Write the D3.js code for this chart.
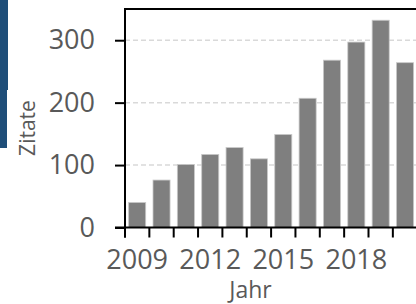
<!DOCTYPE html>
<html>
<head>
<meta charset="utf-8">
<script src="https://cdn.jsdelivr.net/npm/d3@7"></script>
<style>
  body { margin: 0; background: #fff; }
  text { font-family: "Open Sans", sans-serif; fill: #595959; }
</style>
</head>
<body>
<svg id="chart" width="416" height="304"></svg>
<script>
// data
let years = [2009, 2010, 2011, 2012, 2013, 2014, 2015, 2016, 2017, 2018, 2019, 2020];
let zitate = [40, 76, 101, 117, 128, 110, 149, 207, 268, 297, 332, 264];
let yTicks = [0, 100, 200, 300];
let xLabels = [2009, 2012, 2015, 2018];

let svg = d3.select("#chart");
let plotL = 125, plotT = 9, plotB = 227.5, plotR = 417.2;

let x = d3.scaleBand()
    .domain(years)
    .range([plotL, plotR])
    .paddingInner(0.3)
    .paddingOuter(0.15);
let step = x.step();

let y = d3.scaleLinear()
    .domain([0, 350])
    .range([plotB, plotT]);

// blue strip on the left edge
svg.append("path")
    .attr("d", "M0,0H8V90H7V148H0Z")
    .attr("fill", "#1f4e79");

// gridlines
svg.append("g")
    .selectAll("line")
    .data(yTicks.filter(d => d > 0))
    .enter().append("line")
    .attr("x1", plotL).attr("x2", 416)
    .attr("y1", d => y(d)).attr("y2", d => y(d))
    .attr("stroke", "#d9d9d9")
    .attr("stroke-width", 1.5)
    .attr("stroke-dasharray", "5,3");

// bars
svg.append("g")
    .selectAll("rect")
    .data(years)
    .enter().append("rect")
    .attr("x", d => x(d))
    .attr("y", (d, i) => y(zitate[i]))
    .attr("width", x.bandwidth())
    .attr("height", (d, i) => plotB - y(zitate[i]))
    .attr("fill", "#7f7f7f")
    .attr("stroke", "#c8c8c8")
    .attr("stroke-width", 0.8);

// frame: top border
svg.append("line")
    .attr("x1", plotL).attr("x2", 416)
    .attr("y1", plotT).attr("y2", plotT)
    .attr("stroke", "#000").attr("stroke-width", 2);

// y axis
let yAxis = svg.append("g")
    .attr("transform", "translate(" + plotL + ",0)")
    .call(d3.axisLeft(y).tickValues(yTicks).tickSize(10).tickPadding(20));
yAxis.select(".domain").remove();
yAxis.selectAll(".tick line").attr("stroke", "#000").attr("stroke-width", 2);
yAxis.selectAll(".tick text")
    .attr("fill", "#595959")
    .style("font-size", "27px")
    .style("font-family", "Open Sans");
svg.append("line")
    .attr("x1", plotL).attr("x2", plotL)
    .attr("y1", plotT - 1).attr("y2", plotB + 10)
    .attr("stroke", "#000").attr("stroke-width", 2);

// x axis
svg.append("line")
    .attr("x1", plotL - 10).attr("x2", 416)
    .attr("y1", plotB).attr("y2", plotB)
    .attr("stroke", "#000").attr("stroke-width", 2);
svg.append("g")
    .selectAll("line")
    .data(years)
    .enter().append("line")
    .attr("x1", d => x(d) - step * 0.15)
    .attr("x2", d => x(d) - step * 0.15)
    .attr("y1", plotB).attr("y2", plotB + 10)
    .attr("stroke", "#000").attr("stroke-width", 2);
svg.append("g")
    .selectAll("text")
    .data(xLabels)
    .enter().append("text")
    .attr("x", d => x(d) + x.bandwidth() / 2)
    .attr("y", 269)
    .attr("text-anchor", "middle")
    .style("font-size", "27px")
    .text(d => d);

// axis titles
svg.append("text")
    .attr("x", 250.5).attr("y", 297.5)
    .attr("text-anchor", "middle")
    .style("font-size", "23px")
    .text("Jahr");
svg.append("text")
    .attr("transform", "translate(35,128) rotate(-90)")
    .attr("text-anchor", "middle")
    .style("font-size", "21px")
    .text("Zitate");
</script>
</body>
</html>
